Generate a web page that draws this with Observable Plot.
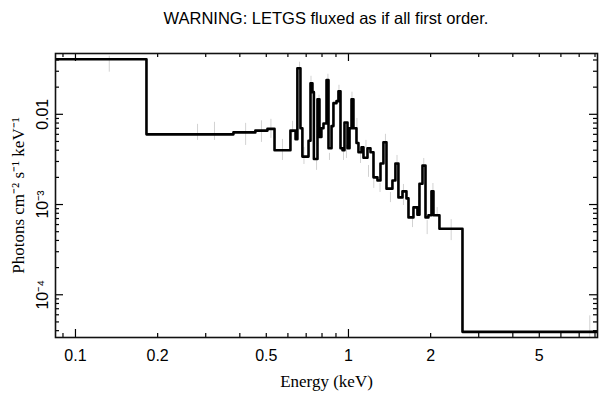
<!DOCTYPE html>
<html><head><meta charset="utf-8">
<script src="https://cdn.jsdelivr.net/npm/d3@7"></script>
<script src="https://cdn.jsdelivr.net/npm/@observablehq/plot@0.6"></script>
<style>
body{margin:0;background:#fff;}
#title{width:542px;margin-left:55px;height:36px;text-align:center;font:16.5px "Liberation Sans",Arial,sans-serif;line-height:36px;color:#000;}
</style></head><body>
<div id="title">WARNING: LETGS fluxed as if all first order.</div>
<div id="chart"></div>
<script>
// Step (model) bins: energy edges in keV and flux per bin
const binEdges = [0.0845, 0.182, 0.379, 0.456, 0.505, 0.536, 0.613, 0.640, 0.650, 0.667, 0.678, 0.714, 0.726, 0.738, 0.747, 0.770, 0.783, 0.796, 0.810, 0.831, 0.845, 0.867, 0.881, 0.904, 0.919, 0.935, 0.951, 0.967, 0.992, 1.009, 1.026, 1.043, 1.070, 1.088, 1.116, 1.135, 1.174, 1.204, 1.235, 1.277, 1.310, 1.343, 1.378, 1.413, 1.449, 1.486, 1.524, 1.577, 1.631, 1.659, 1.730, 1.789, 1.820, 1.867, 1.915, 1.963, 2.014, 2.048, 2.154, 2.616, 8.17];
const binFlux = [0.0408, 0.0060, 0.0063, 0.0066, 0.0069, 0.0040, 0.0066, 0.0053, 0.0324, 0.0070, 0.0034, 0.0051, 0.0221, 0.0176, 0.0032, 0.0147, 0.0056, 0.0070, 0.0079, 0.0239, 0.0042, 0.0074, 0.0133, 0.0140, 0.0180, 0.0042, 0.0040, 0.0081, 0.0042, 0.0070, 0.0147, 0.0070, 0.0048, 0.0038, 0.0043, 0.0033, 0.0042, 0.0038, 0.0020, 0.00185, 0.00285, 0.0049, 0.0015, 0.0015, 0.00185, 0.00285, 0.0012, 0.0014, 0.00117, 0.00072, 0.00093, 0.00077, 0.0017, 0.0027, 0.00072, 0.00076, 0.0014, 0.00076, 0.00054, 0.0000388];

// Data error bars (grey)
const errEnergy = [0.133, 0.280, 0.323, 0.420, 0.480, 0.520, 0.573, 0.624, 0.662, 0.687, 0.729, 0.764, 0.780, 0.841, 0.852, 0.923, 0.959, 0.983, 1.030, 1.074, 1.107, 1.159, 1.184, 1.238, 1.305, 1.366, 1.425, 1.506, 1.590, 1.716, 1.805, 1.887, 1.942, 2.039, 2.113, 2.378, 7.655];
const errLow = [0.0293, 0.00514, 0.00514, 0.00452, 0.00488, 0.00541, 0.00308, 0.00615, 0.0278, 0.00278, 0.0215, 0.00239, 0.0133, 0.0239, 0.00308, 0.0176, 0.00308, 0.00324, 0.0143, 0.0070, 0.00285, 0.00419, 0.0020, 0.00151, 0.00136, 0.00476, 0.00105, 0.00278, 0.000975, 0.000555, 0.000755, 0.00264, 0.000464, 0.00123, 0.000717, 0.000398, 0.00003];
const errHigh = [0.0441, 0.00774, 0.00815, 0.00794, 0.00847, 0.0088, 0.00527, 0.00836, 0.0378, 0.0043, 0.0264, 0.00308, 0.0163, 0.0278, 0.00369, 0.0210, 0.00398, 0.00452, 0.0176, 0.0090, 0.00369, 0.00514, 0.00271, 0.0021, 0.00171, 0.0060, 0.00136, 0.0035, 0.00167, 0.000815, 0.00111, 0.00324, 0.000664, 0.00171, 0.000926, 0.000681, 0.0000584];

// Axis ticks
const xMajor = [0.1, 1];
const xMinor = [0.09, 0.2, 0.3, 0.4, 0.5, 0.6, 0.7, 0.8, 0.9, 2, 3, 4, 5, 6, 7, 8];
const xLabelVals = [0.1, 0.2, 0.5, 1, 2, 5];
const xLabels = ["0.1", "0.2", "0.5", "1", "2", "5"];
const yMajor = [1e-4, 1e-3, 1e-2];
const yMinor = [4e-5, 5e-5, 6e-5, 7e-5, 8e-5, 9e-5, 2e-4, 3e-4, 4e-4, 5e-4, 6e-4, 7e-4, 8e-4, 9e-4, 2e-3, 3e-3, 4e-3, 5e-3, 6e-3, 7e-3, 8e-3, 9e-3, 0.02, 0.03, 0.04];
const yLabelVals = [0.01, 1e-3, 1e-4];
const yLabels = ["0.01", "10\u207B\u00B3", "10\u207B\u2074"];

const steps = binEdges.map((e, i) => ({e, f: binFlux[Math.min(i, binFlux.length - 1)]}));
const errs = errEnergy.map((e, i) => ({e, lo: errLow[i], hi: errHigh[i]}));

const W = 609, H = 363, mL = 55, mR = 12, mT = 17, mB = 62;
const fw = W - mL - mR, fh = H - mT - mB;
const sans = "Liberation Sans, Arial, sans-serif";
const serif = "Liberation Serif, Times New Roman, serif";

const chart = Plot.plot({
  width: W, height: H,
  marginLeft: mL, marginRight: mR, marginTop: mT, marginBottom: mB,
  style: {background: "#fff", fontFamily: sans},
  x: {type: "log", domain: [0.0845, 8.17], axis: null},
  y: {type: "log", domain: [3.36e-5, 0.0472], axis: null},
  marks: [
    Plot.ruleX(errs, {x: "e", y1: "lo", y2: "hi", stroke: "#d2d2d2", strokeWidth: 1, clip: true}),
    Plot.line(steps, {x: "e", y: "f", curve: "step-after", stroke: "#000", strokeWidth: 2.6, clip: true}),
    // inward ticks
    Plot.ruleX(xMajor, {insetTop: fh - 8, stroke: "#000", strokeWidth: 1.2}),
    Plot.ruleX(xMajor, {insetBottom: fh - 8, stroke: "#000", strokeWidth: 1.2}),
    Plot.ruleX(xMinor, {insetTop: fh - 4, stroke: "#000", strokeWidth: 1.2}),
    Plot.ruleX(xMinor, {insetBottom: fh - 4, stroke: "#000", strokeWidth: 1.2}),
    Plot.ruleY(yMajor, {insetRight: fw - 8, stroke: "#000", strokeWidth: 1.2}),
    Plot.ruleY(yMajor, {insetLeft: fw - 8, stroke: "#000", strokeWidth: 1.2}),
    Plot.ruleY(yMinor, {insetRight: fw - 4, stroke: "#000", strokeWidth: 1.2}),
    Plot.ruleY(yMinor, {insetLeft: fw - 4, stroke: "#000", strokeWidth: 1.2}),
    Plot.frame({stroke: "#111", strokeWidth: 1.6}),
    // tick labels
    Plot.text(xLabelVals, {x: d => d, text: (d, i) => xLabels[i], frameAnchor: "bottom", textAnchor: "middle", lineAnchor: "middle", dy: 18, fontSize: 16, fill: "#000"}),
    Plot.text(yLabelVals, {y: d => d, text: (d, i) => yLabels[i], frameAnchor: "left", textAnchor: "middle", lineAnchor: "middle", dx: -13, rotate: -90, fontSize: 16, fill: "#000"}),
    // axis titles
    Plot.text(["Energy (keV)"], {frameAnchor: "bottom", textAnchor: "middle", lineAnchor: "middle", dy: 44, fontSize: 17, fontFamily: serif, fill: "#000"}),
    Plot.text(["Photons cm\u207B\u00B2 s\u207B\u00B9 keV\u207B\u00B9"], {frameAnchor: "left", textAnchor: "middle", lineAnchor: "middle", dx: -37, rotate: -90, fontSize: 17, fontFamily: serif, fill: "#000"})
  ]
});
document.getElementById("chart").appendChild(chart);
</script>
</body></html>
